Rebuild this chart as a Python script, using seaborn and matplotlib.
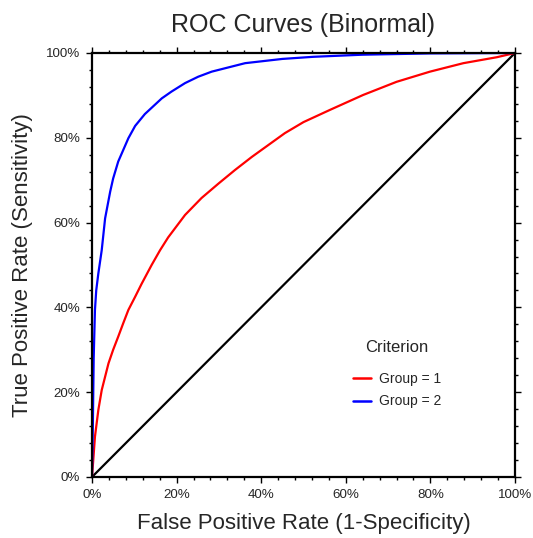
import numpy as np
import pandas as pd
import matplotlib
matplotlib.use("Agg")
import matplotlib.pyplot as plt
from matplotlib.ticker import MultipleLocator, PercentFormatter
from matplotlib.lines import Line2D
import seaborn as sns

# Puntos (FPR, TPR)
red_fpr = [0, 0.003, 0.007, 0.015, 0.023, 0.039, 0.050, 0.062, 0.074, 0.086, 0.102, 0.117,
           0.141, 0.161, 0.180, 0.220, 0.259, 0.299, 0.338, 0.378, 0.417, 0.456, 0.500,
           0.563, 0.641, 0.720, 0.799, 0.878, 0.957, 1.0]
red_tpr = [0, 0.040, 0.095, 0.158, 0.205, 0.268, 0.300, 0.331, 0.363, 0.394, 0.425, 0.455,
           0.500, 0.535, 0.565, 0.618, 0.658, 0.692, 0.724, 0.755, 0.783, 0.811, 0.837,
           0.866, 0.901, 0.932, 0.956, 0.976, 0.990, 1.0]

blue_fpr = [0, 0.002, 0.004, 0.007, 0.010, 0.015, 0.023, 0.031, 0.043, 0.050, 0.062, 0.086,
            0.102, 0.125, 0.165, 0.188, 0.220, 0.251, 0.283, 0.362, 0.450, 0.523, 0.640,
            0.800, 1.0]
blue_tpr = [0, 0.120, 0.280, 0.394, 0.440, 0.480, 0.535, 0.610, 0.673, 0.704, 0.744, 0.799,
            0.828, 0.856, 0.893, 0.909, 0.929, 0.944, 0.956, 0.976, 0.986, 0.991, 0.996,
            0.999, 1.0]

diag = [0, 1]
groups = ["Group = 1", "Group = 2"]
colors = ["#ff0000", "#0000ff"]

df = pd.concat([
    pd.DataFrame({"fpr": red_fpr, "tpr": red_tpr, "grupo": groups[0]}),
    pd.DataFrame({"fpr": blue_fpr, "tpr": blue_tpr, "grupo": groups[1]}),
], ignore_index=True)

sns.set_style("white")
plt.rcParams["font.family"] = ["Liberation Sans", "DejaVu Sans"]

fig = plt.figure(figsize=(5.33, 5.38), dpi=100)
ax = fig.add_axes([0.1726, 0.1134, 0.7936, 0.7881])

sns.lineplot(x=diag, y=diag, color="black", lw=1.6, ax=ax)
sns.lineplot(data=df, x="fpr", y="tpr", hue="grupo", palette=colors, sort=False,
             estimator=None, lw=1.6, ax=ax, legend=False)

ax.set_xlim(0, 1)
ax.set_ylim(0, 1)
for a in (ax.xaxis, ax.yaxis):
    a.set_major_locator(MultipleLocator(0.2))
    a.set_minor_locator(MultipleLocator(0.04))
    a.set_major_formatter(PercentFormatter(1.0, decimals=0))
ax.tick_params(which="both", direction="out", bottom=True, left=True, top=True, right=True,
               color="black", labelsize=9.6, pad=4)
ax.tick_params(which="major", length=4.5, width=1)
ax.tick_params(which="minor", length=2.5, width=1)
for s in ax.spines.values():
    s.set_color("black")
    s.set_linewidth(1.6)

ax.set_title("ROC Curves (Binormal)", fontsize=18, pad=15)
ax.set_xlabel("False Positive Rate (1-Specificity)", fontsize=16, labelpad=9)
ax.set_ylabel("True Positive Rate (Sensitivity)", fontsize=16, labelpad=9)

handles = [Line2D([], [], color=c, lw=1.8) for c in colors]
leg = ax.legend(handles, groups, title="Criterion", frameon=False, fontsize=10,
                title_fontsize=12, loc="upper left", bbox_to_anchor=(0.617, 0.322),
                borderaxespad=0, borderpad=0, handlelength=1.3, handletextpad=0.55,
                labelspacing=0.6)
leg._legend_box.sep = 12

fig.savefig("out.png", dpi=100)
